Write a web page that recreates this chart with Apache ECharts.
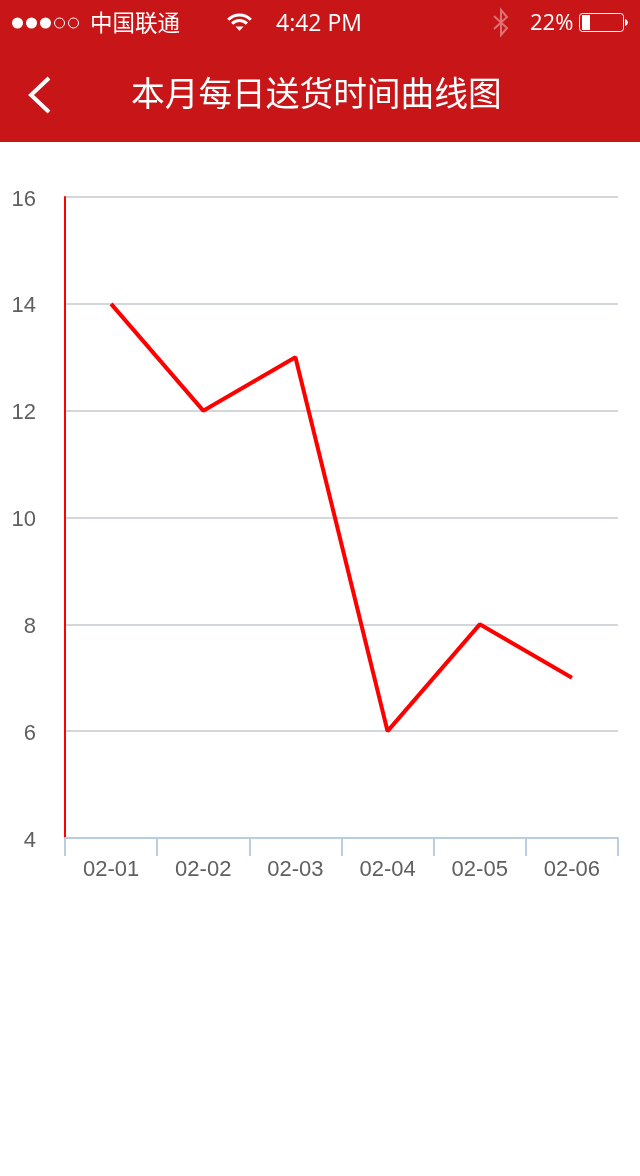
<!DOCTYPE html>
<html><head><meta charset="utf-8">
<style>html,body{margin:0;padding:0;background:#fff}#c{width:640px;height:1176px}</style>
<script src="https://cdn.jsdelivr.net/npm/echarts@6/dist/echarts.min.js"></script>
</head><body><div id="c"></div>
<script>
const categories = ['02-01','02-02','02-03','02-04','02-05','02-06'];
const deliveryTimes = [14,12,13,6,8,7];
const titleText = '本月每日送货时间曲线图';
const carrierText = '中国联通';
const timeText = '4:42 PM';
const batteryText = '22%';

const cjk = '"Noto Sans CJK SC","Noto Sans",sans-serif';
const white = '#fff';
const dots = [0,1,2,3,4].map(i => ({
  type:'circle', shape:{cx:17.5+i*14, cy:23, r:i<3?5.5:5},
  style: i<3 ? {fill:white} : {fill:'none', stroke:white, lineWidth:1}
}));
const wifiArc = r => ({type:'arc',shape:{cx:239.5,cy:31,r:r,startAngle:-Math.PI*0.75,endAngle:-Math.PI*0.25,clockwise:true},style:{fill:'none',stroke:white,lineWidth:3}});
const headerItems = [
  ...dots,
  {type:'text',x:90,y:11,style:{text:carrierText,font:'22.5px '+cjk,fill:white}},
  wifiArc(10.5), wifiArc(16),
  {type:'polygon',shape:{points:[[235.5,26.5],[243.5,26.5],[239.5,31]]},style:{fill:white}},
  {type:'text',x:276,y:13,style:{text:timeText,font:'23px "Open Sans","Liberation Sans",sans-serif',fill:white}},
  {type:'polyline',shape:{points:[[494,16],[507,28],[501,35],[501,10],[507,17],[494,29]]},style:{fill:'none',stroke:'rgba(255,255,255,0.4)',lineWidth:2}},
  {type:'text',x:530,y:13,style:{text:batteryText,font:'22px "Open Sans","Liberation Sans",sans-serif',fill:white}},
  {type:'rect',shape:{x:579.5,y:13.5,width:44,height:18,r:3},style:{fill:'none',stroke:white,lineWidth:1}},
  {type:'rect',shape:{x:582,y:15,width:8,height:15},style:{fill:white}},
  {type:'polygon',shape:{points:[[625,19],[627,20],[628,22.5],[627,25],[625,26]]},style:{fill:white}},
  {type:'polyline',shape:{points:[[49,78],[31,95],[49,112]]},style:{fill:'none',stroke:white,lineWidth:4}},
  {type:'text',x:131,y:76,style:{text:titleText,font:'33.7px '+cjk,fill:white}}
].map(item => Object.assign({z:101,silent:true}, item));
const chart = echarts.init(document.getElementById('c'), null, {renderer:'canvas'});
chart.setOption({
  animation:false,
  backgroundColor:'#fff',
  grid:{left:65,right:22,top:197,bottom:338,containLabel:false},
  xAxis:{type:'category',data:categories,boundaryGap:true,
    axisLine:{lineStyle:{color:'#b9cde0',width:2}},
    axisTick:{show:true,alignWithLabel:false,length:18,lineStyle:{color:'#b9cde0',width:2}},
    axisLabel:{color:'#606060',fontFamily:'"Liberation Sans",Arial,sans-serif',fontSize:22,margin:21},
    splitLine:{show:false}},
  yAxis:{type:'value',min:4,max:16,interval:2,
    axisLine:{show:true,lineStyle:{color:'#ff0000',width:2}},
    axisTick:{show:false},
    axisLabel:{color:'#606060',fontFamily:'"Liberation Sans",Arial,sans-serif',fontSize:22,margin:29,
      verticalAlign:'top',lineHeight:5},
    splitLine:{show:true,lineStyle:{color:'#d3d6da',width:2}}},
  series:[{type:'line',data:deliveryTimes,symbol:'none',smooth:false,
    lineStyle:{color:'#ff0000',width:4}}],
  graphic:[
    {type:'rect',z:100,silent:true,shape:{x:0,y:0,width:640,height:142},style:{fill:'#c71518'}},
    ...headerItems
  ]
});
</script></body></html>
